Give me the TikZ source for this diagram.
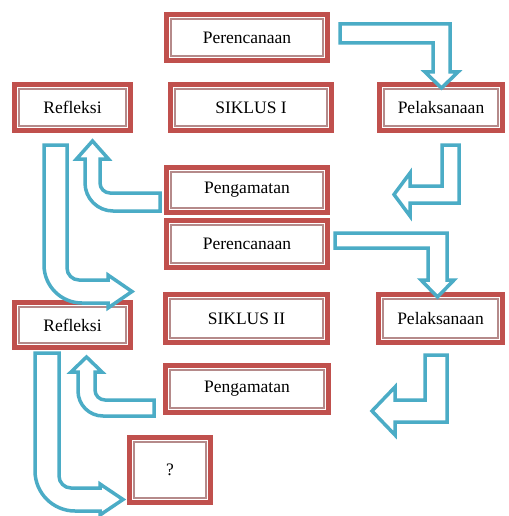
\documentclass[tikz,border=0pt]{standalone}
\usepackage{fontspec}
\setmainfont{Liberation Serif}
\definecolor{boxred}{HTML}{C0504D}
\definecolor{innerred}{HTML}{B58A8A}
\definecolor{arrowteal}{HTML}{4BACC6}
\begin{document}
\begin{tikzpicture}[x=1pt,y=-1pt,
  box/.style 2 args={draw=boxred, line width=4.5pt, fill=white,
    minimum width=#1, minimum height=#2, inner sep=0pt,
    font=\fontsize{17.5}{20}\selectfont,
    path picture={\draw[innerred, line width=1.2pt]
      ([shift={(4.5pt,4.5pt)}]path picture bounding box.south west) rectangle
      ([shift={(-4.5pt,-4.5pt)}]path picture bounding box.north east);}},
  barrow/.style={draw=arrowteal, line width=3.5pt, fill=white, line join=miter}]
\useasboundingbox[fill=white] (0,0) rectangle (508,516);

% boxes
\node[box={161pt}{46pt}] (per1) at (247,37.5) {Perencanaan};
\node[box={116pt}{46pt}] (ref1) at (72.5,107.5) {Refleksi};
\node[box={161pt}{46pt}] (sik1) at (251,107.5) {SIKLUS I};
\node[box={123pt}{46pt}] (pel1) at (441,107.5) {Pelaksanaan};
\node[box={161pt}{45pt}] (pen1) at (247,190) {Pengamatan};
\node[box={161pt}{47pt}] (per2) at (247,244) {Perencanaan};
\node[box={116pt}{45pt}] (ref2) at (72.5,325) {Refleksi};
\node[box={162pt}{48pt}] (sik2) at (246.5,318.5) {SIKLUS II};
\node[box={124pt}{48pt}] (pel2) at (440.5,318.5) {Pelaksanaan};
\node[box={163pt}{47pt}] (pen2) at (247,389) {Pengamatan};
\node[box={81pt}{65pt}] (q) at (170,470) {?};

% block arrows
% Perencanaan 1 -> Pelaksanaan 1
\draw[barrow] (340,24) -- (450,24) -- (450,72) -- (458,72) -- (441.5,88)
  -- (425,72) -- (433,72) -- (433,43) -- (340,43) -- cycle;
% Pelaksanaan 1 -> Pengamatan 1
\draw[barrow] (442,145) -- (459,145) -- (459,203) -- (410,203) -- (410,216)
  -- (394,194.5) -- (410,173) -- (410,186) -- (442,186) -- cycle;
% Pengamatan 1 -> Refleksi 1
\draw[barrow] (160,193) -- (110,193) .. controls (104.5,193) and (100,188.5) .. (100,183)
  -- (100,159) -- (108.5,159) -- (92.5,141) -- (76.5,159) -- (85,159) -- (85,183)
  .. controls (85,198.4) and (97.6,211) .. (113,211) -- (160,211) -- cycle;
% Refleksi 1 -> Siklus II
\draw[barrow] (44,145) -- (67,145) -- (67,268) .. controls (67,274.6) and (72.4,280) .. (79,280)
  -- (108,280) -- (108,275) -- (132,291.5) -- (108,308) -- (108,303) -- (82,303)
  .. controls (61,303) and (44,286) .. (44,265) -- cycle;
% Perencanaan 2 -> Pelaksanaan 2
\draw[barrow] (335,233) -- (447,233) -- (447,280) -- (454,280) -- (437.5,297)
  -- (421,280) -- (428,280) -- (428,248) -- (335,248) -- cycle;
% Pelaksanaan 2 -> Pengamatan 2
\draw[barrow] (425,355) -- (447,355) -- (447,422) -- (395,422) -- (395,435)
  -- (372,411) -- (395,387) -- (395,400) -- (425,400) -- cycle;
% Pengamatan 2 -> Refleksi 2
\draw[barrow] (154,400) -- (105,400) .. controls (99.5,400) and (95,395.5) .. (95,390)
  -- (95,372) -- (102,372) -- (86.5,357) -- (71,372) -- (78,372) -- (78,391)
  .. controls (78,404.8) and (89.2,416) .. (103,416) -- (154,416) -- cycle;
% Refleksi 2 -> ?
\draw[barrow] (35,353) -- (59,353) -- (59,476) .. controls (59,482.6) and (64.4,488) .. (71,488)
  -- (100,488) -- (100,484) -- (123,499.5) -- (100,515) -- (100,511) -- (75,511)
  .. controls (53,511) and (35,493) .. (35,471) -- cycle;
\end{tikzpicture}
\end{document}
